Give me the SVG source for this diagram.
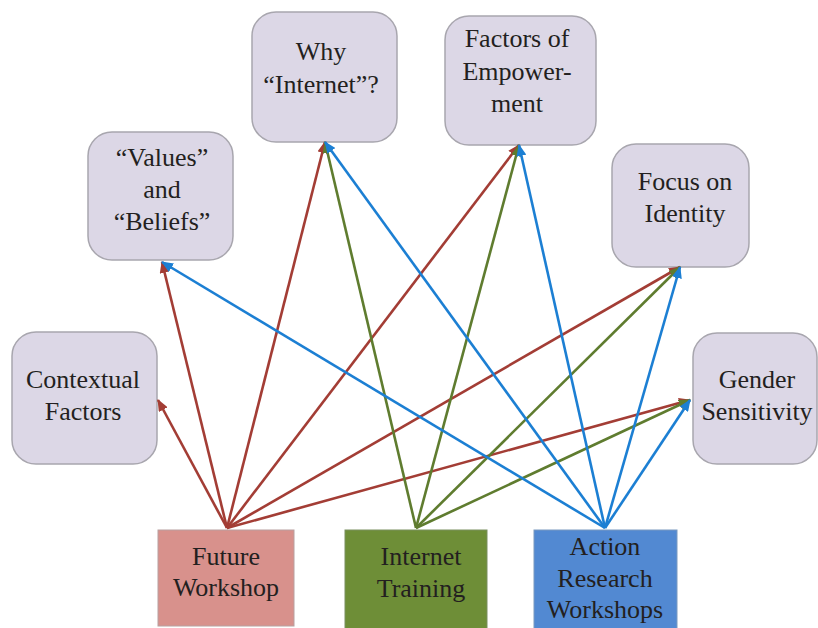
<svg xmlns="http://www.w3.org/2000/svg" width="818" height="628" viewBox="0 0 818 628">
<style>
.n{fill:#dcd7e6;stroke:#a8a6ae;stroke-width:1.5}
.t{font-family:"Liberation Serif","Times New Roman",serif;font-size:26px;fill:#231f20;text-anchor:middle}
.r{stroke:#a33d35;stroke-width:2.6;fill:none;marker-end:url(#ar)}
.g{stroke:#5f7c2f;stroke-width:2.6;fill:none;marker-end:url(#ag)}
.b{stroke:#1c7fd3;stroke-width:2.6;fill:none;marker-end:url(#ab)}
</style>
<defs>
<marker id="ar" markerUnits="userSpaceOnUse" markerWidth="12" markerHeight="10" refX="11" refY="5" orient="auto"><path d="M0,0L12,5L0,10z" fill="#a33d35"/></marker>
<marker id="ag" markerUnits="userSpaceOnUse" markerWidth="12" markerHeight="10" refX="11" refY="5" orient="auto"><path d="M0,0L12,5L0,10z" fill="#5f7c2f"/></marker>
<marker id="ab" markerUnits="userSpaceOnUse" markerWidth="12" markerHeight="10" refX="11" refY="5" orient="auto"><path d="M0,0L12,5L0,10z" fill="#1c7fd3"/></marker>
</defs>
<rect width="818" height="628" fill="#ffffff"/>
<g id="contextual"><rect class="n" x="12" y="332" width="145" height="132" rx="24"/><text class="t" x="83" y="388">Contextual</text><text class="t" x="83" y="420">Factors</text></g>
<g id="values"><rect class="n" x="88" y="132" width="145" height="128" rx="24"/><text class="t" x="162" y="166">“Values”</text><text class="t" x="162" y="198">and</text><text class="t" x="162" y="230">“Beliefs”</text></g>
<g id="why"><rect class="n" x="252" y="12" width="145" height="130" rx="24"/><text class="t" x="321" y="60">Why</text><text class="t" x="321" y="93">“Internet”?</text></g>
<g id="empowerment"><rect class="n" x="445" y="16" width="151" height="129" rx="24"/><text class="t" x="517" y="47">Factors of</text><text class="t" x="517" y="80">Empower-</text><text class="t" x="517" y="112">ment</text></g>
<g id="identity"><rect class="n" x="612" y="144" width="137" height="123" rx="24"/><text class="t" x="685" y="190">Focus on</text><text class="t" x="685" y="222">Identity</text></g>
<g id="gender"><rect class="n" x="693" y="333" width="124" height="131" rx="24"/><text class="t" x="757" y="388">Gender</text><text class="t" x="757" y="420">Sensitivity</text></g>
<g id="future"><rect x="158" y="530" width="136" height="96" fill="#d8918c" stroke="#b8a0a0" stroke-width="1"/><text class="t" x="226" y="565">Future</text><text class="t" x="226" y="596">Workshop</text></g>
<g id="internet"><rect x="345" y="530" width="142" height="100" fill="#6e8e37" stroke="#7a8f60" stroke-width="1"/><text class="t" x="421" y="565">Internet</text><text class="t" x="421" y="597">Training</text></g>
<g id="action"><rect x="534" y="530" width="143" height="100" fill="#5289d2" stroke="#7a9ac0" stroke-width="1"/><text class="t" x="605" y="555">Action</text><text class="t" x="605" y="587">Research</text><text class="t" x="605" y="618">Workshops</text></g>
<g id="connectors">
<path class="r" d="M227,528L158,400"/>
<path class="r" d="M227,528L162,262"/>
<path class="r" d="M227,528L325,142"/>
<path class="r" d="M227,528L519,145"/>
<path class="r" d="M227,528L680,267"/>
<path class="r" d="M227,528L690,400"/>
<path class="g" d="M416,528L325,142"/>
<path class="g" d="M416,528L519,145"/>
<path class="g" d="M416,528L680,267"/>
<path class="g" d="M416,528L690,400"/>
<path class="b" d="M605,528L162,262"/>
<path class="b" d="M605,528L325,142"/>
<path class="b" d="M605,528L519,145"/>
<path class="b" d="M605,528L680,267"/>
<path class="b" d="M605,528L690,400"/>
</g>
</svg>
